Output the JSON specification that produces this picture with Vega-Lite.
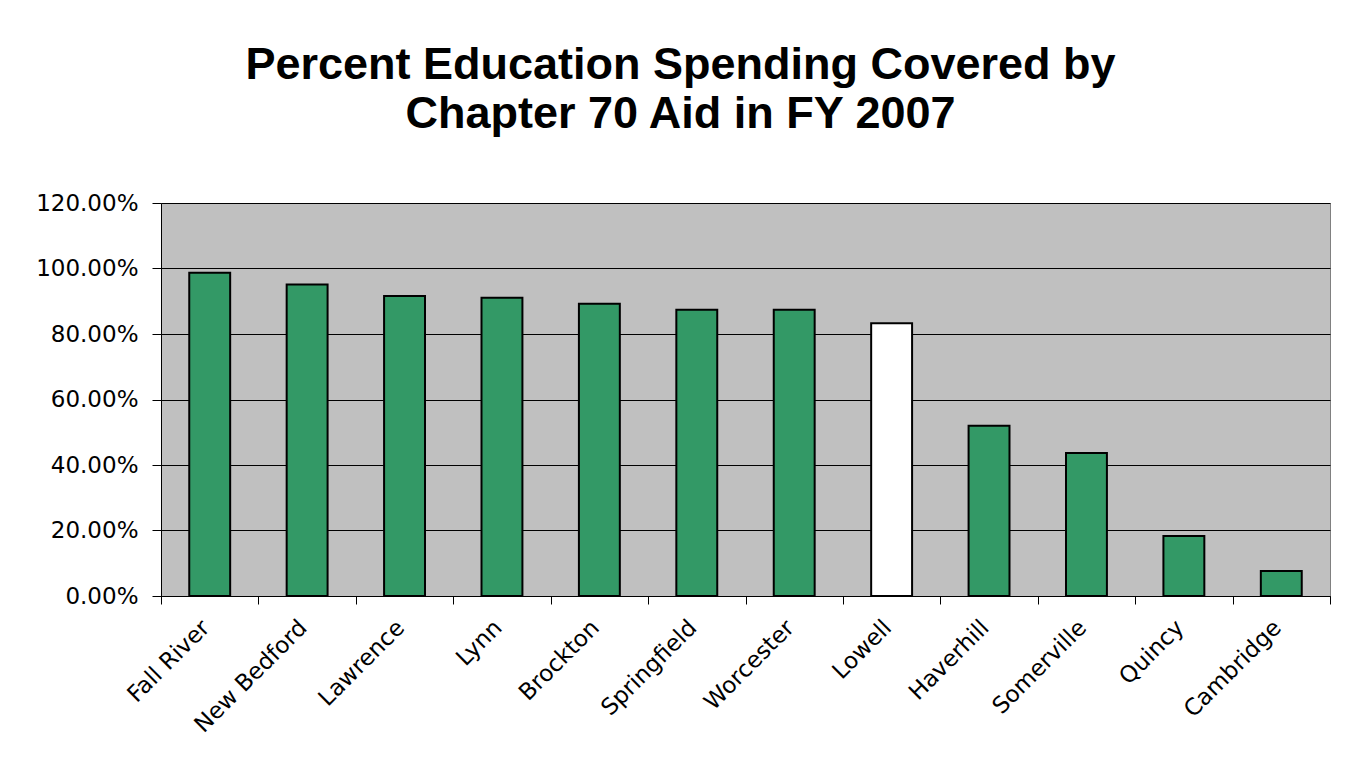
{
  "$schema": "https://vega.github.io/schema/vega-lite/v6.json",
  "width": 1169,
  "height": 393,
  "autosize": {"type": "none"},
  "padding": {"left": 161, "top": 203, "right": 16, "bottom": 170},
  "background": "white",
  "title": {
    "text": ["Percent Education Spending Covered by", "Chapter 70 Aid in FY 2007"],
    "font": "Liberation Sans",
    "fontSize": 45,
    "fontWeight": "bold",
    "lineHeight": 49,
    "color": "black",
    "anchor": "middle",
    "frame": "group",
    "dx": -65,
    "offset": 55
  },
  "data": {
    "values": [
      {"city": "Fall River", "pct": 0.987, "highlight": "no"},
      {"city": "New Bedford", "pct": 0.951, "highlight": "no"},
      {"city": "Lawrence", "pct": 0.916, "highlight": "no"},
      {"city": "Lynn", "pct": 0.911, "highlight": "no"},
      {"city": "Brockton", "pct": 0.892, "highlight": "no"},
      {"city": "Springfield", "pct": 0.874, "highlight": "no"},
      {"city": "Worcester", "pct": 0.874, "highlight": "no"},
      {"city": "Lowell", "pct": 0.833, "highlight": "yes"},
      {"city": "Haverhill", "pct": 0.52, "highlight": "no"},
      {"city": "Somerville", "pct": 0.437, "highlight": "no"},
      {"city": "Quincy", "pct": 0.183, "highlight": "no"},
      {"city": "Cambridge", "pct": 0.076, "highlight": "no"}
    ]
  },
  "mark": {"type": "bar", "stroke": "black", "strokeWidth": 2, "width": {"band": 0.42}},
  "encoding": {
    "x": {
      "field": "city",
      "type": "nominal",
      "sort": null,
      "scale": {"paddingInner": 0, "paddingOuter": 0},
      "axis": {
        "title": null,
        "labelAngle": -45,
        "labelAlign": "right",
        "labelBaseline": "top",
        "labelFont": "DejaVu Sans",
        "labelFontSize": 23,
        "labelColor": "black",
        "labelPadding": 12,
        "labelOffset": -12,
        "tickBand": "extent",
        "tickSize": 8,
        "tickColor": "black",
        "domainColor": "black",
        "domainWidth": 1,
        "grid": false
      }
    },
    "y": {
      "field": "pct",
      "type": "quantitative",
      "scale": {"domain": [0, 1.2], "nice": false},
      "axis": {
        "title": null,
        "format": ".2%",
        "values": [0, 0.2, 0.4, 0.6, 0.8, 1.0, 1.2],
        "labelFont": "DejaVu Sans",
        "labelFontSize": 23,
        "labelColor": "black",
        "labelPadding": 14,
        "tickSize": 9,
        "tickColor": "black",
        "domainColor": "black",
        "grid": true,
        "gridColor": "black",
        "gridWidth": 1,
        "gridOpacity": 1
      }
    },
    "fill": {
      "field": "highlight",
      "type": "nominal",
      "scale": {"domain": ["no", "yes"], "range": ["#339966", "#ffffff"]},
      "legend": null
    }
  },
  "config": {
    "view": {"fill": "#C0C0C0", "stroke": "#808080", "strokeWidth": 1}
  }
}
